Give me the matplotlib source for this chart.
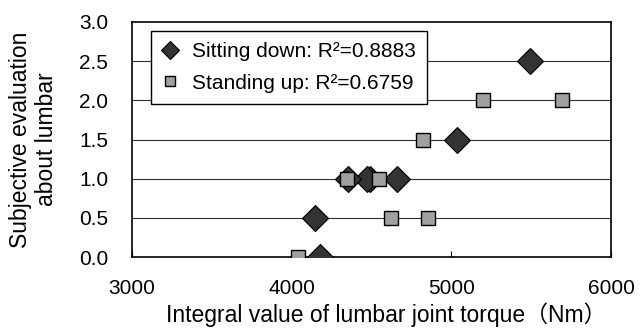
import matplotlib.pyplot as plt

plt.rcParams["font.family"] = ["Liberation Sans", "Noto Sans CJK JP"]

# Sitting down: lumbar torque integral vs. subjective score
sit_torque = [5490, 5035, 4660, 4490, 4470, 4350, 4145, 4177]
sit_score = [2.5, 1.5, 1.0, 1.0, 1.0, 1.0, 0.5, 0.0]

# Standing up
stand_torque = [5198, 5694, 4823, 4348, 4544, 4619, 4856, 4042]
stand_score = [2.0, 2.0, 1.5, 1.0, 1.0, 0.5, 0.5, 0.0]

sit_label = "Sitting down: R²=0.8883"
stand_label = "Standing up: R²=0.6759"

xticks = [3000, 4000, 5000, 6000]
yticks = [0.0, 0.5, 1.0, 1.5, 2.0, 2.5, 3.0]

FS = 15
LABEL_FS = 16.5


def main():
    fig = plt.figure(figsize=(6.4, 3.33), dpi=100)
    ax = fig.add_axes([0.206, 0.228, 0.749, 0.706])

    for y in yticks[1:-1]:
        ax.axhline(y, color="#303030", lw=0.8, zorder=1)

    ax.plot(sit_torque, sit_score, "D", ms=13, color="#333333",
            mec="black", mew=0.8, zorder=3, label=sit_label)
    ax.plot(stand_torque, stand_score, "s", ms=10, color="#a0a0a0",
            mec="black", mew=1.0, zorder=3, label=stand_label)

    ax.set_xlim(3000, 6000)
    ax.set_ylim(0, 3)
    ax.set_xticks(xticks)
    ax.set_yticks(yticks)
    ax.set_yticklabels([f"{v:.1f}" for v in yticks])
    ax.tick_params(axis="x", direction="in", length=4, pad=16, labelsize=FS)
    ax.tick_params(axis="y", length=0, pad=17, labelsize=FS)
    for s in ax.spines.values():
        s.set_linewidth(1.2)
        s.set_color("black")

    ax.set_xlabel("Integral value of lumbar joint torque（Nm）", fontsize=LABEL_FS, labelpad=3)
    ax.xaxis.label.set_x(0.53)
    ax.set_ylabel("Subjective evaluation\nabout lumbar", fontsize=LABEL_FS, linespacing=1.15)
    ax.yaxis.set_label_coords(-0.155, 0.5)

    leg = ax.legend(loc="upper left", bbox_to_anchor=(0.04, 0.963), fontsize=FS,
                    frameon=True, fancybox=False, edgecolor="black", framealpha=1,
                    handlelength=0.7, handletextpad=0.7, borderpad=0.55,
                    labelspacing=0.6, markerscale=0.7, borderaxespad=0)
    leg.get_frame().set_linewidth(1.0)

    fig.savefig("out.png", dpi=100)


if __name__ == "__main__":
    main()
